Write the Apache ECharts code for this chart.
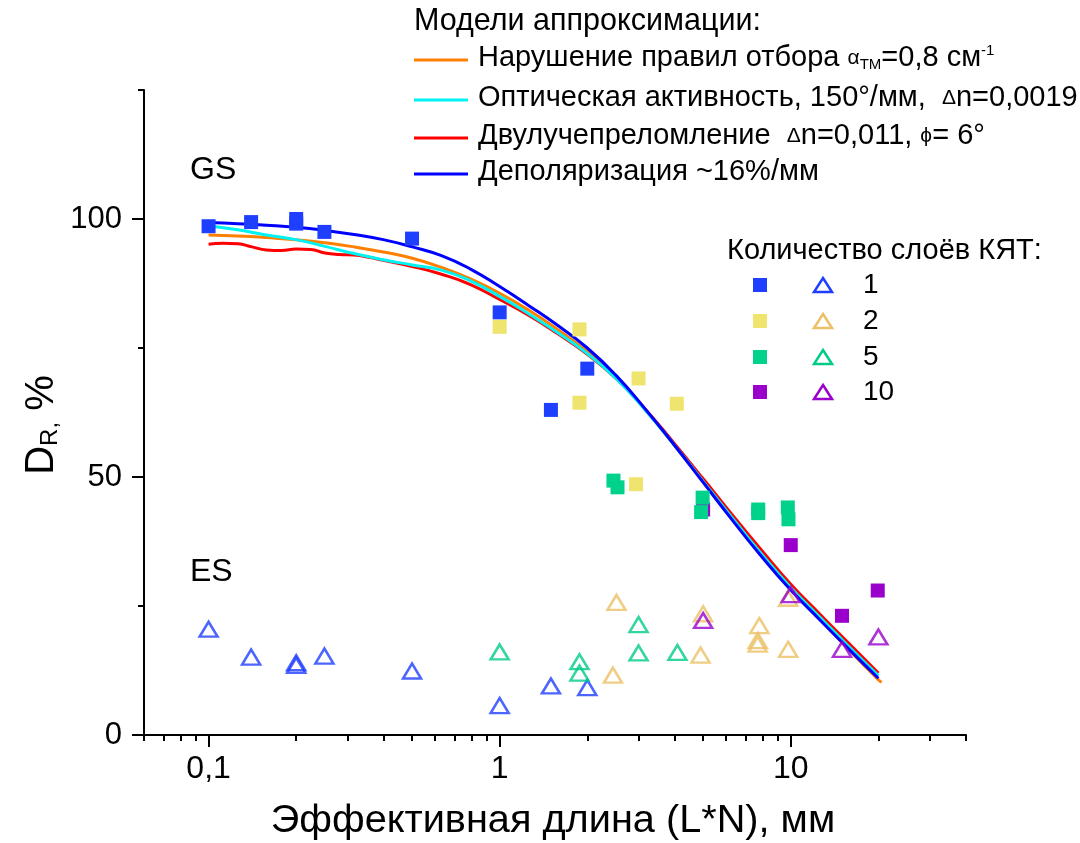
<!DOCTYPE html>
<html>
<head>
<meta charset="utf-8">
<script src="https://cdn.jsdelivr.net/npm/echarts@6/dist/echarts.min.js"></script>
<style>
  html, body { margin: 0; padding: 0; background: #ffffff; }
  #chart { width: 1080px; height: 843px; }
</style>
</head>
<body>
<div id="chart"></div>
<script>
// ---- Axis ticks -------------------------------------------------------
const xTicksMajor = [0.1, 1, 10];
const xTickLabels = ['0,1', '1', '10'];
const xTicksMinor = [0.06, 0.07, 0.08, 0.09, 0.2, 0.3, 0.4, 0.5, 0.6, 0.7, 0.8, 0.9,
                     2, 3, 4, 5, 6, 7, 8, 9, 20, 30, 40];
const yTicksMajor = [0, 50, 100];
const yTicksMinor = [25, 75, 125];

// ---- Model curves: [effective length, mm ; D_R, %] ---------------------
const curveSelection = [[0.1,96.9],[0.126,96.7],[0.158,96.4],[0.2,96.0],[0.251,95.4],[0.316,94.6],
  [0.398,93.6],[0.501,92.4],[0.631,90.6],[0.794,88.4],[1,85.6],[1.26,82.3],[1.58,78.6],[2,74.3],
  [2.51,69.3],[3.16,63.1],[3.98,56.2],[5.01,49.0],[6.31,41.8],[7.94,34.9],[10,28.4],[12.6,22.5],
  [15.8,16.6],[20,10.7],[20.5,10.2]];
const curveOptical = [[0.1,98.7],[0.126,97.9],[0.158,96.9],[0.2,96.0],[0.251,94.7],[0.316,93.3],
  [0.398,92.1],[0.501,91.1],[0.631,90.1],[0.794,88.0],[1,85.0],[1.26,81.6],[1.58,78.0],[2,73.9],
  [2.51,69.1],[3.16,63.0],[3.98,56.2],[5.01,49.1],[6.31,42.0],[7.94,35.1],[10,28.6],[12.6,22.8],
  [15.8,17.2],[20,11.5]];
const curveBirefr = [[0.1,95.1],[0.112,95.3],[0.126,95.2],[0.141,94.6],[0.158,94.0],[0.178,93.9],
  [0.2,94.2],[0.224,94.1],[0.251,93.4],[0.282,93.1],[0.316,93.0],[0.355,92.6],[0.398,92.0],
  [0.501,90.8],[0.631,89.3],[0.794,87.3],[1,84.4],[1.26,81.3],[1.58,77.8],[2,73.8],[2.51,69.1],
  [3.16,63.2],[3.98,56.5],[5.01,49.6],[6.31,42.6],[7.94,35.8],[10,29.2],[12.6,23.4],[15.8,17.8],
  [20,12.0]];
const curveDepol = [[0.1,99.3],[0.126,99.1],[0.158,98.8],[0.2,98.4],[0.251,97.8],[0.316,97.0],
  [0.398,96.0],[0.501,94.6],[0.631,92.9],[0.794,90.3],[1,86.9],[1.26,83.2],[1.58,79.4],[2,75.0],
  [2.51,69.7],[3.16,63.2],[3.98,56.2],[5.01,48.9],[6.31,41.6],[7.94,34.6],[10,28.1],[12.6,22.3],
  [15.8,16.7],[20,11.0]];

// ---- Measurements, GS (filled squares) by number of layers --------------
const gs1  = [[0.1,98.6],[0.14,99.4],[0.2,100.0],[0.2,99.1],[0.25,97.5],[0.5,96.2],[1,81.9],[1.5,63.0],[2,71.0]];
const gs2  = [[1,79.1],[1.88,78.6],[1.88,64.4],[3,69.1],[4.06,64.2],[2.94,48.6]];
const gs5  = [[2.46,49.3],[2.54,48.0],[4.98,46.0],[4.92,43.2],[7.73,43.7],[7.73,43.0],[9.77,44.1],[9.82,41.8]];
const gs10 = [[5.0,43.7],[10,36.8],[15,23.1],[19.9,28.0]];

// ---- Measurements, ES (open triangles) ---------------------------------
const es1  = [[0.1,20.5],[0.14,15.1],[0.2,14.0],[0.2,13.5],[0.25,15.3],[0.5,12.4],[1,5.7],[1.5,9.5],[2,9.2]];
const es2  = [[2.52,25.7],[2.45,11.6],[5,23.5],[4.9,15.5],[7.8,21.2],[7.7,18.3],[7.7,17.6],[9.8,16.6],[9.8,26.5]];
const es5  = [[1,16.1],[1.88,14.2],[1.88,12.0],[3,21.4],[3,15.9],[4.08,16.0]];
const es10 = [[5,22.2],[10,27.2],[15,16.6],[20,19.0]];

const layerLabels = ['1', '2', '5', '10'];

const FONT = '"Liberation Sans", Arial, sans-serif';
const C = {
  orange: '#FF8000', cyan: '#00F2F2', red: '#FF0000', blue: '#0000FF',
  sq1: '#1F3FFF', sq2: '#EEE46E', sq5: '#00D28C', sq10: '#9900CC',
  tr1: '#1F3FFF', tr2: '#EBC066', tr5: '#00CC88', tr10: '#9900CC'
};

function lineSeries(name, data, color) {
  return {
    name, type: 'line', data, smooth: 0.5, showSymbol: false, symbol: 'none',
    lineStyle: { color, width: 3 }, z: 2, silent: true
  };
}
function squares(name, data, color) {
  return {
    name, type: 'scatter', data, symbol: 'rect', symbolSize: 14,
    itemStyle: { color, opacity: 1 }, z: 3
  };
}
function triangles(name, data, color) {
  return {
    name, type: 'scatter', data, symbol: 'triangle', symbolSize: [18, 15],
    itemStyle: { color: 'rgba(0,0,0,0)', borderColor: color, borderWidth: 2.5 }, z: 4
  };
}

// ---- Legend / annotation graphics --------------------------------------
const rich = {
  g:   { fontSize: 21, fontFamily: FONT, fill: '#000' },
  sub: { fontSize: 15, fontFamily: FONT, verticalAlign: 'bottom' },
  sup: { fontSize: 15, fontFamily: FONT, verticalAlign: 'top' }
};
const modelLabels = [
  'Нарушение правил отбора {g|α}{sub|TM}=0,8 см{sup|-1}',
  'Оптическая активность, 150°/мм,  {g|Δ}n=0,0019',
  'Двулучепреломление  {g|Δ}n=0,011, {g|ϕ}= 6°',
  'Деполяризация ~16%/мм'
];
const modelColors = [C.orange, C.cyan, C.red, C.blue];
const modelRowsY = [60, 100, 138, 174];

const graphic = [];
function text(x, y, str, size, extra) {
  graphic.push(Object.assign({
    type: 'text', x, y, silent: true,
    style: Object.assign({ text: str, font: size + 'px ' + FONT, fill: '#000',
      align: 'left', verticalAlign: 'middle' }, extra || {})
  }));
}
text(414, 22, 'Модели аппроксимации:', 30.5);
modelLabels.forEach((s, i) => {
  graphic.push({ type: 'line', silent: true,
    shape: { x1: 414, y1: modelRowsY[i], x2: 468, y2: modelRowsY[i] },
    style: { stroke: modelColors[i], lineWidth: 3 } });
  text(478, modelRowsY[i] - 2, s, 29, { rich });
});

text(190, 170, 'GS', 32);
text(190, 572, 'ES', 32);

text(727, 251, 'Количество слоёв КЯТ:', 29);
const rowY = [285, 321, 357, 392];
const sqColors = [C.sq1, C.sq2, C.sq5, C.sq10];
const trColors = [C.tr1, C.tr2, C.tr5, C.tr10];
layerLabels.forEach((lab, i) => {
  graphic.push({ type: 'rect', silent: true,
    shape: { x: 753, y: rowY[i] - 7, width: 14, height: 14 }, style: { fill: sqColors[i] } });
  graphic.push({ type: 'polygon', silent: true,
    shape: { points: [[823, rowY[i] - 7], [832, rowY[i] + 7], [814, rowY[i] + 7]] },
    style: { fill: 'none', stroke: trColors[i], lineWidth: 2.5 } });
  text(863, rowY[i], lab, 28);
});

// Axis titles
text(553, 821, 'Эффективная длина (L*N), мм', 39.7, { align: 'center' });
graphic.push({
  type: 'text', x: 42, y: 425, rotation: Math.PI / 2, silent: true,
  style: { text: 'D{r|R,} %', font: '40px ' + FONT, fill: '#000',
    align: 'center', verticalAlign: 'middle',
    rich: { r: { fontSize: 24, fontFamily: FONT, verticalAlign: 'bottom' } } }
});

// ---- Chart --------------------------------------------------------------
const axisColor = '#000';
function xAxisBase(extra) {
  return Object.assign({
    type: 'log', logBase: 10, min: 0.06, max: 40, position: 'bottom',
    splitLine: { show: false }, minorTick: { show: false }, minorSplitLine: { show: false }
  }, extra);
}
function yAxisBase(extra) {
  return Object.assign({
    type: 'value', min: 0, max: 125, position: 'left',
    splitLine: { show: false }
  }, extra);
}

const option = {
  animation: false,
  backgroundColor: '#fff',
  grid: { left: 144, right: 114, top: 90, bottom: 108 },
  xAxis: [
    xAxisBase({
      axisLine: { show: true, lineStyle: { color: axisColor, width: 2 } },
      axisTick: { show: true, length: 12, customValues: xTicksMajor, lineStyle: { color: axisColor, width: 2 } },
      axisLabel: {
        customValues: xTicksMajor, color: '#000', fontSize: 32, fontFamily: FONT, margin: 18,
        formatter: v => xTickLabels[Math.round(Math.log10(v)) + 1] || ''
      }
    }),
    xAxisBase({
      axisLine: { show: false },
      axisTick: { show: true, length: 6, customValues: xTicksMinor, lineStyle: { color: axisColor, width: 2 } },
      axisLabel: { show: false }
    })
  ],
  yAxis: [
    yAxisBase({
      axisLine: { show: true, lineStyle: { color: axisColor, width: 2 } },
      axisTick: { show: true, length: 12, customValues: yTicksMajor, lineStyle: { color: axisColor, width: 2 } },
      axisLabel: { customValues: yTicksMajor, color: '#000', fontSize: 31, fontFamily: FONT, margin: 22 }
    }),
    yAxisBase({
      axisLine: { show: false },
      axisTick: { show: true, length: 6, customValues: yTicksMinor, lineStyle: { color: axisColor, width: 2 } },
      axisLabel: { show: false }
    })
  ],
  graphic,
  series: [
    lineSeries('Нарушение правил отбора', curveSelection, C.orange),
    lineSeries('Двулучепреломление', curveBirefr, C.red),
    lineSeries('Оптическая активность', curveOptical, C.cyan),
    lineSeries('Деполяризация', curveDepol, C.blue),
    squares('GS 10', gs10, C.sq10),
    squares('GS 1', gs1, C.sq1),
    squares('GS 2', gs2, C.sq2),
    squares('GS 5', gs5, C.sq5),
    triangles('ES 1', es1, C.tr1),
    triangles('ES 2', es2, C.tr2),
    triangles('ES 5', es5, C.tr5),
    triangles('ES 10', es10, C.tr10)
  ]
};

const chart = echarts.init(document.getElementById('chart'), null, { renderer: 'canvas' });
chart.setOption(option);
</script>
</body>
</html>
